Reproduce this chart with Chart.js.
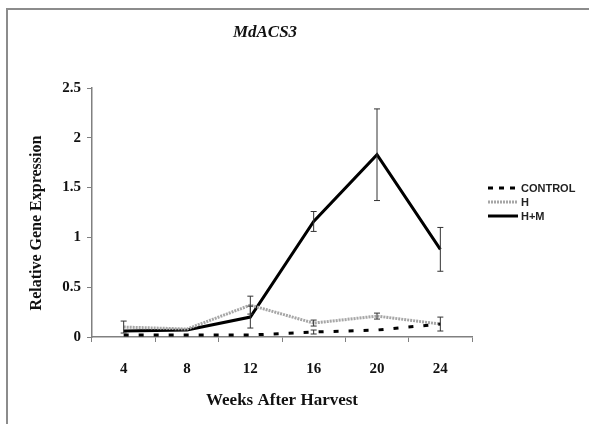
<!DOCTYPE html>
<html><head><meta charset="utf-8">
<script src="https://cdn.jsdelivr.net/npm/chart.js@4/dist/chart.umd.min.js"></script>
<style>
html,body{margin:0;padding:0;background:#fff;}
#wrap{position:relative;width:589px;height:424px;overflow:hidden;}
#frame{position:absolute;left:6px;top:8px;width:700px;height:600px;border-left:2px solid #8c8c8c;border-top:2px solid #8c8c8c;}
canvas{position:absolute;left:0;top:0;}
</style></head>
<body><div id="wrap"><div id="frame"></div><canvas id="c" width="589" height="424"></canvas></div>
<script>
const weeks = ['4','8','12','16','20','24'];
const controlVals = [0.02, 0.02, 0.02, 0.05, 0.07, 0.13];
const controlErr  = [0.00, 0.00, 0.00, 0.02, 0.00, 0.00];
const hVals = [0.10, 0.08, 0.32, 0.14, 0.21, 0.13];
const hErr  = [0.06, 0.00, 0.09, 0.03, 0.03, 0.07];
const hmVals = [0.06, 0.07, 0.20, 1.16, 1.83, 0.88];
const hmErr  = [0.00, 0.00, 0.11, 0.10, 0.46, 0.22];
const yTicks = [0, 0.5, 1, 1.5, 2, 2.5];
const yTickLabels = ['0', '0.5', '1', '1.5', '2', '2.5'];
const chartTitle = 'MdACS3';
const yTitle = 'Relative Gene Expression';
const xTitle = 'Weeks After Harvest';
const legendNames = ['CONTROL', 'H', 'H+M'];

const serif = '"Liberation Serif", "Times New Roman", serif';

const errorBars = {
  id: 'errorBars',
  afterDatasetsDraw(chart) {
    const {ctx, scales: {x, y}} = chart;
    ctx.save();
    ctx.strokeStyle = '#333';
    ctx.lineWidth = 1;
    chart.data.datasets.forEach(ds => {
      ds.err.forEach((e, i) => {
        if (!e) return;
        const px = x.getPixelForValue(i);
        const yt = y.getPixelForValue(ds.data[i] + e);
        const yb = y.getPixelForValue(Math.max(0, ds.data[i] - e));
        ctx.beginPath();
        ctx.moveTo(px, yt); ctx.lineTo(px, yb);
        ctx.moveTo(px - 3, yt); ctx.lineTo(px + 3, yt);
        ctx.moveTo(px - 3, yb); ctx.lineTo(px + 3, yb);
        ctx.stroke();
      });
    });
    ctx.restore();
  }
};

const texts = {
  id: 'texts',
  afterDraw(chart) {
    const {ctx} = chart;
    ctx.save();
    ctx.fillStyle = '#111';
    ctx.textAlign = 'center';
    ctx.textBaseline = 'middle';
    ctx.font = 'italic bold 17px ' + serif;
    ctx.fillText(chartTitle, 265, 33);
    ctx.translate(37, 223);
    ctx.rotate(-Math.PI / 2);
    ctx.font = 'bold 16px ' + serif;
    ctx.fillText(yTitle, 0, 0);
    ctx.restore();
    // legend
    ctx.save();
    const ys = [188, 202, 216];
    chart.data.datasets.forEach((ds, i) => {
      ctx.beginPath();
      ctx.strokeStyle = ds.borderColor;
      ctx.lineWidth = ds.borderWidth;
      ctx.setLineDash(i === 0 ? [5, 6] : (ds.borderDash || []));
      ctx.moveTo(488, ys[i]); ctx.lineTo(518, ys[i]);
      ctx.stroke();
      ctx.setLineDash([]);
      ctx.fillStyle = '#222';
      ctx.font = 'bold 11px "Liberation Sans Narrow", "Liberation Sans", Arial, sans-serif';
      ctx.textAlign = 'left';
      ctx.textBaseline = 'middle';
      ctx.fillText(legendNames[i], 521, ys[i] + 1);
    });
    ctx.restore();
  }
};

new Chart(document.getElementById('c'), {
  type: 'line',
  data: {
    labels: weeks,
    datasets: [
      {label: legendNames[0], data: controlVals, err: controlErr, borderColor: '#000', borderWidth: 3, borderDash: [5, 10], pointRadius: 0, tension: 0, fill: false},
      {label: legendNames[1], data: hVals, err: hErr, borderColor: '#a6a6a6', borderWidth: 3, borderDash: [2, 1], pointRadius: 0, tension: 0, fill: false},
      {label: legendNames[2], data: hmVals, err: hmErr, borderColor: '#000', borderWidth: 3, pointRadius: 0, tension: 0, fill: false}
    ]
  },
  options: {
    responsive: false,
    animation: false,
    layout: {padding: {top: 88, right: 117, bottom: 0, left: 0}},
    plugins: {legend: {display: false}, title: {display: false}, tooltip: {enabled: false}},
    scales: {
      x: {
        type: 'category',
        offset: true,
        afterFit: s => { s.height = 87; },
        grid: {offset: true, drawOnChartArea: false, drawTicks: true, tickLength: 5, color: '#808080'},
        border: {color: '#808080', width: 1.5},
        ticks: {color: '#111', padding: 18, font: {family: serif, size: 15, weight: 'bold'}},
        title: {display: true, text: xTitle, color: '#111', font: {family: serif, size: 17, weight: 'bold'}, padding: {top: 0, bottom: 13}}
      },
      y: {
        min: 0, max: 2.5,
        afterFit: s => { s.width = 92; },
        afterBuildTicks: s => { s.ticks = yTicks.map(v => ({value: v})); },
        grid: {drawOnChartArea: false, drawTicks: true, tickLength: 5, color: '#808080'},
        border: {color: '#808080', width: 1.5},
        ticks: {color: '#111', padding: 6, font: {family: serif, size: 15, weight: 'bold'},
          callback: (v) => yTickLabels[yTicks.indexOf(v)] ?? String(v)}
      }
    }
  },
  plugins: [errorBars, texts]
});
</script>
</body></html>
